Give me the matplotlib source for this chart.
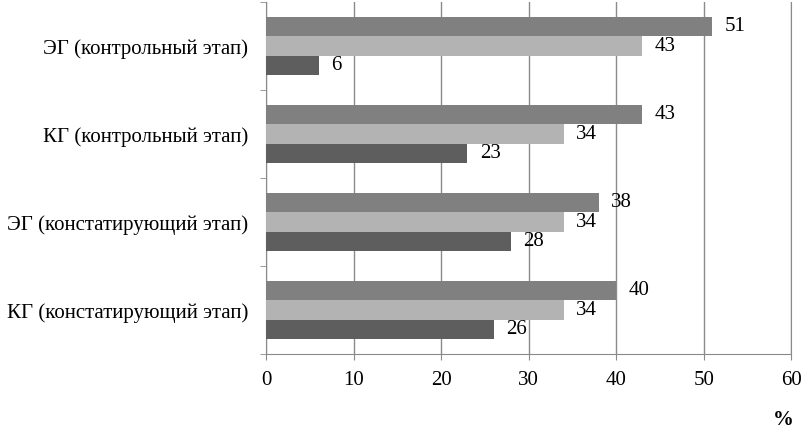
import matplotlib.pyplot as plt
import numpy as np

plt.rcParams['font.family'] = ['Liberation Serif', 'DejaVu Serif']

# categories listed bottom to top
categories = [
    'КГ (констатирующий этап)',
    'ЭГ (констатирующий этап)',
    'КГ (контрольный этап)',
    'ЭГ (контрольный этап)',
]
series_top = [40, 38, 43, 51]
series_mid = [34, 34, 34, 43]
series_bottom = [26, 28, 23, 6]

COLORS = ['#808080', '#b3b3b3', '#5e5e5e']
GRID = '#8a8a8a'
FS = 15

fig = plt.figure(figsize=(8.04, 4.34), dpi=100)
ax = fig.add_axes([0.331, 0.184, 0.653, 0.811])

y = np.arange(len(categories))
h = 0.222
for vals, off, col in zip([series_top, series_mid, series_bottom], [h, 0, -h], COLORS):
    ax.barh(y + off, vals, height=h, color=col, zorder=3)
    for yi, v in zip(y + off, vals):
        ax.text(v + 1.4, yi, str(v), va='center', ha='left', fontsize=FS, zorder=4)

ax.set_xlim(0, 60)
ax.set_ylim(-0.5, len(categories) - 0.5)
ax.set_xticks(np.arange(0, 61, 10))
ax.set_yticks(y)
ax.set_yticklabels(categories)
ax.set_yticks(np.arange(-0.5, len(categories), 1), minor=True)
ax.tick_params(axis='y', which='major', length=0, pad=13, labelsize=FS)
ax.tick_params(axis='y', which='minor', length=4, color=GRID)
ax.tick_params(axis='x', length=4, color=GRID, labelsize=FS, pad=8)

ax.grid(axis='x', color=GRID, linewidth=1, zorder=0)
ax.spines['top'].set_visible(False)
for s in ['left', 'bottom', 'right']:
    ax.spines[s].set_color(GRID)

fig.text(0.987, 0.01, '%', ha='right', va='bottom', fontsize=FS, fontweight='bold')

plt.savefig('out.png', dpi=100)
